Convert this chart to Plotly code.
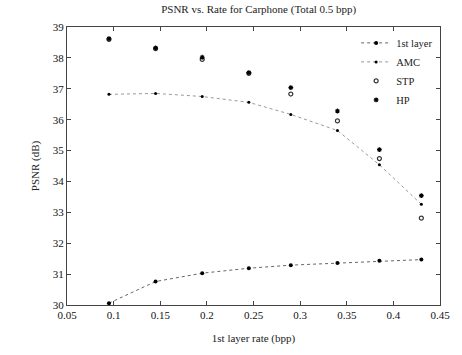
import plotly.graph_objects as go

rate = [0.095, 0.145, 0.195, 0.245, 0.29, 0.34, 0.385, 0.43]
first_layer = [30.06, 30.76, 31.03, 31.19, 31.29, 31.36, 31.43, 31.47]
amc = [36.82, 36.85, 36.75, 36.56, 36.17, 35.65, 34.54, 33.26]
stp = [38.60, 38.30, 37.95, 37.50, 36.83, 35.96, 34.74, 32.81]
hp = [38.62, 38.32, 38.02, 37.52, 37.04, 36.28, 35.03, 33.54]

x_ticks = [0.05, 0.1, 0.15, 0.2, 0.25, 0.3, 0.35, 0.4, 0.45]
x_ticktext = ["0.05", "0.1", "0.15", "0.2", "0.25", "0.3", "0.35", "0.4", "0.45"]
y_ticks = [30, 31, 32, 33, 34, 35, 36, 37, 38, 39]

font = "Liberation Serif"
fig = go.Figure()
fig.add_trace(go.Scatter(x=rate, y=first_layer, name="1st layer", mode="lines+markers",
                         line=dict(color="#666", width=1, dash="dot"),
                         marker=dict(symbol="circle", size=4, color="black")))
fig.add_trace(go.Scatter(x=rate, y=amc, name="AMC", mode="lines+markers",
                         line=dict(color="#999", width=1, dash="dot"),
                         marker=dict(symbol="circle", size=3, color="black")))
fig.add_trace(go.Scatter(x=rate, y=stp, name="STP", mode="markers",
                         marker=dict(symbol="circle-open", size=4, color="#333", line=dict(width=1.2))))
fig.add_trace(go.Scatter(x=rate, y=hp, name="HP", mode="markers",
                         marker=dict(symbol="asterisk-open", size=4, color="black", line=dict(width=1.2))))

axis_common = dict(showgrid=False, zeroline=False, showline=True, linecolor="#444", linewidth=1,
                   mirror="ticks", ticks="inside", ticklen=4, tickcolor="#444",
                   tickfont=dict(family=font, size=11, color="#111"))
fig.update_xaxes(range=[0.05, 0.45], tickvals=x_ticks, ticktext=x_ticktext,
                 title=dict(text="1st layer rate (bpp)", font=dict(family=font, size=11, color="#222"), standoff=14),
                 **axis_common)
fig.update_yaxes(range=[30, 39], tickvals=y_ticks,
                 title=dict(text="PSNR (dB)", font=dict(family=font, size=11, color="#222"), standoff=10),
                 **axis_common)
fig.update_layout(
    width=462, height=355,
    margin=dict(l=67, r=14, t=27, b=47),
    paper_bgcolor="white", plot_bgcolor="white",
    title=dict(text="PSNR vs. Rate for Carphone (Total 0.5 bpp)", x=0.56, xanchor="center", y=0.985, yanchor="top",
               font=dict(family=font, size=11, color="#222")),
    legend=dict(x=0.995, y=0.995, xanchor="right", yanchor="top", bgcolor="rgba(0,0,0,0)",
                font=dict(family=font, size=10.5, color="#222"), tracegroupgap=0, itemwidth=30),
    showlegend=True,
)
fig.write_html("out.html")
